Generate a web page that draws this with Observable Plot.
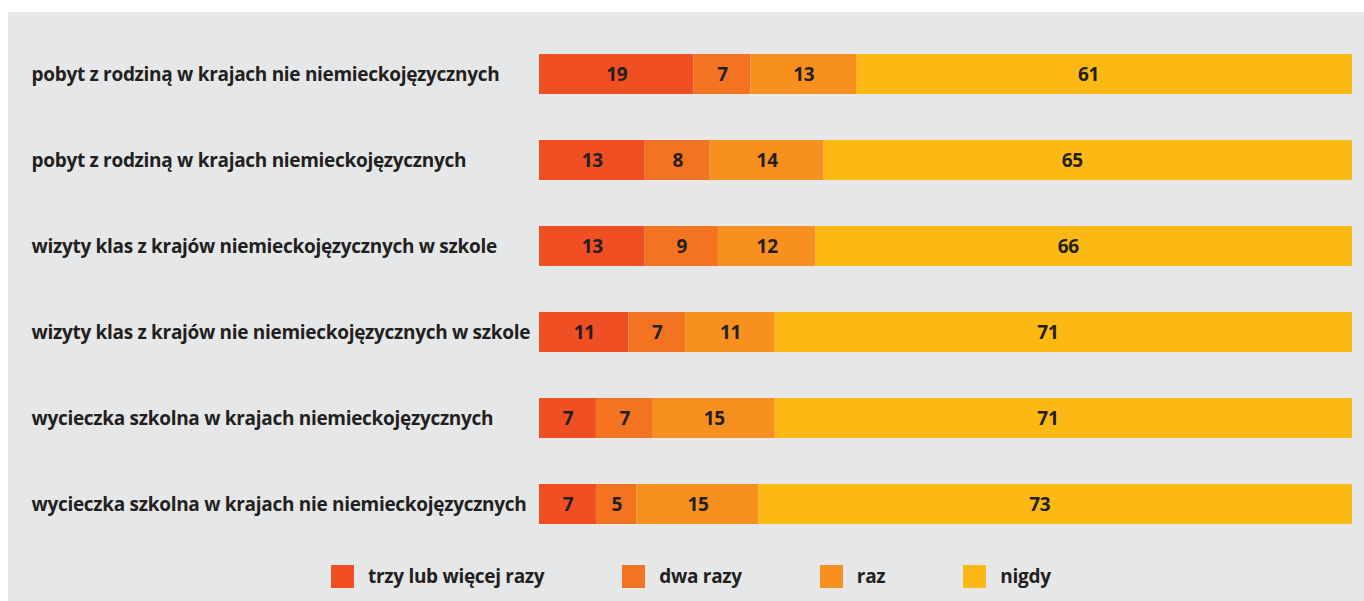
<!DOCTYPE html>
<html>
<head>
<meta charset="utf-8">
<script src="https://cdn.jsdelivr.net/npm/d3@7"></script>
<script src="https://cdn.jsdelivr.net/npm/@observablehq/plot@0.6"></script>
<style>
  html, body { margin: 0; padding: 0; background: #ffffff; }
  body { width: 1364px; height: 601px; overflow: hidden; position: relative; font-family: "Open Sans", sans-serif; }
  #panel { position: absolute; left: 8px; top: 12px; width: 1356px; height: 589px; background: #e6e7e8; }
  #chart svg { display: block; background: transparent; }
  #legend { position: absolute; left: 323px; top: 553px; display: flex; align-items: center; height: 23px; }
  .item { display: flex; align-items: center; margin-right: 78px; }
  .sw { width: 23px; height: 23px; margin-right: 14px; }
  .lab { font-family: "Open Sans", sans-serif; font-weight: 700; font-size: 19px; color: #231f20; letter-spacing: -0.3px; line-height: 23px; }
</style>
</head>
<body>
<div id="panel">
  <div id="chart"></div>
  <div id="legend"></div>
</div>
<script>
const categories = [
  "pobyt z rodziną w krajach nie niemieckojęzycznych",
  "pobyt z rodziną w krajach niemieckojęzycznych",
  "wizyty klas z krajów niemieckojęzycznych w szkole",
  "wizyty klas z krajów nie niemieckojęzycznych w szkole",
  "wycieczka szkolna w krajach niemieckojęzycznych",
  "wycieczka szkolna w krajach nie niemieckojęzycznych"
];
const seriesNames = ["trzy lub więcej razy", "dwa razy", "raz", "nigdy"];
const threeOrMore = [19, 13, 13, 11, 7, 7];
const twice = [7, 8, 9, 7, 7, 5];
const once = [13, 14, 12, 11, 15, 15];
const never = [61, 65, 66, 71, 71, 73];
const colors = ["#f04e23", "#f37321", "#f7901e", "#fdb913"];

const seriesValues = [threeOrMore, twice, once, never];
const data = [];
categories.forEach((c, i) => {
  seriesNames.forEach((s, j) => {
    data.push({category: c, series: s, value: seriesValues[j][i]});
  });
});

const W = 1356, H = 541, ML = 531, MR = 12;
const lastSeries = seriesNames[seriesNames.length - 1];

const chart = Plot.plot({
  width: W,
  height: H,
  marginLeft: ML,
  marginRight: MR,
  marginTop: 14,
  marginBottom: 0,
  style: {background: "transparent", fontFamily: "Open Sans, sans-serif"},
  x: {domain: [0, 100], axis: null},
  y: {domain: categories, axis: null, paddingInner: 0.53, paddingOuter: 0.3},
  color: {domain: seriesNames, range: colors},
  marks: [
    Plot.barX(data, {x: "value", y: "category", z: "series", fill: "series", order: null}),
    Plot.text(data, Plot.stackX({
      x: "value", y: "category", z: "series", order: null,
      text: d => d.series === lastSeries ? null : String(d.value),
      fill: "#231f20", fontSize: 19, fontWeight: 700
    })),
    Plot.text(data, Plot.stackX({
      x: "value", y: "category", z: "series", order: null,
      text: d => d.series === lastSeries ? String(d.value) : null,
      dx: -16,
      fill: "#231f20", fontSize: 19, fontWeight: 700
    })),
    Plot.text(categories, {
      y: d => d, text: d => d, frameAnchor: "left", textAnchor: "start",
      dx: 23 - ML, fill: "#231f20", fontSize: 19, fontWeight: 700
    })
  ]
});
document.getElementById("chart").appendChild(chart);
chart.querySelectorAll("text").forEach(t => t.setAttribute("letter-spacing", "-0.3"));

const legend = document.getElementById("legend");
seriesNames.forEach((s, j) => {
  const item = document.createElement("div");
  item.className = "item";
  const sw = document.createElement("div");
  sw.className = "sw";
  sw.style.background = colors[j];
  const lab = document.createElement("span");
  lab.className = "lab";
  lab.textContent = s;
  item.appendChild(sw);
  item.appendChild(lab);
  legend.appendChild(item);
});
</script>
</body>
</html>
